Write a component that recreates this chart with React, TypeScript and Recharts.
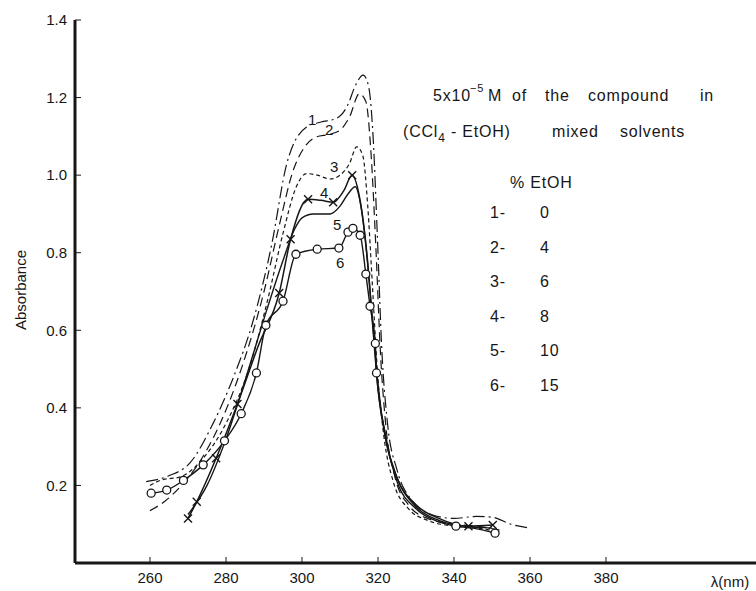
import { LineChart, Line, XAxis, YAxis } from 'recharts'

const xTicks = [260, 280, 300, 320, 340, 360, 380]
const yTicks = [0.2, 0.4, 0.6, 0.8, 1.0, 1.2, 1.4]

// 1 - 0 % EtOH (dash-dot)
const c1Nm = [259, 265, 270.5, 276.6, 282, 287, 292, 296, 301.2, 305, 309, 312, 314, 316.1, 317.5, 318.7, 319.8, 321, 322.5, 325, 329, 334, 340, 346, 350, 355, 360]
const c1Abs = [0.21, 0.225, 0.258, 0.36, 0.48, 0.62, 0.82, 1.03, 1.124, 1.137, 1.146, 1.18, 1.23, 1.258, 1.23, 1.1, 0.85, 0.55, 0.36, 0.24, 0.16, 0.125, 0.115, 0.12, 0.118, 0.1, 0.09]

// 2 - 4 % EtOH (dashed)
const c2Nm = [260, 264, 268, 273, 278, 284, 290, 294, 297.7, 300.5, 303.9, 307, 310, 312.5, 315.1, 316.8, 318.2, 319.5, 320.6, 322, 324.5, 328, 333, 340, 346, 352]
const c2Abs = [0.135, 0.16, 0.197, 0.26, 0.35, 0.5, 0.7, 0.87, 1.013, 1.07, 1.099, 1.105, 1.116, 1.15, 1.21, 1.19, 1.05, 0.8, 0.55, 0.36, 0.22, 0.15, 0.115, 0.1, 0.095, 0.085]

// 3 - 6 % EtOH (short dashes)
const c3Nm = [260, 263, 268, 274, 280, 286, 291, 295, 298.5, 301.2, 304, 307.4, 310, 312.5, 314.4, 316, 317.3, 318.5, 319.8, 321.5, 324, 328, 333, 340, 346, 352]
const c3Abs = [0.2, 0.214, 0.222, 0.27, 0.36, 0.5, 0.68, 0.85, 0.97, 1.004, 1.0, 0.99, 1.0, 1.03, 1.073, 1.05, 0.92, 0.72, 0.5, 0.33, 0.21, 0.14, 0.11, 0.095, 0.09, 0.08]

// 4 - 8 % EtOH (crosses)
const c4Nm = [270, 272.3, 277.4, 283, 288.5, 294, 297, 301.6, 305, 308.2, 311, 313.2, 315, 316.5, 317.6, 318.7, 320, 322, 325, 330, 336, 343.8, 350.2]
const c4Abs = [0.115, 0.158, 0.27, 0.41, 0.56, 0.696, 0.835, 0.938, 0.935, 0.93, 0.96, 1.0, 0.95, 0.85, 0.74, 0.6, 0.45, 0.32, 0.22, 0.15, 0.115, 0.095, 0.098]
const c4Marks = [0, 1, 2, 3, 5, 6, 7, 9, 11, 21, 22]

// 5 - 10 % EtOH (solid)
const c5Nm = [270, 275, 280, 285, 290, 295, 298, 300, 303, 307.4, 310, 312, 314, 315.5, 317, 318.5, 320, 322, 325, 330, 336, 343, 350]
const c5Abs = [0.125, 0.2, 0.32, 0.47, 0.63, 0.78, 0.86, 0.89, 0.9, 0.9, 0.92, 0.95, 0.97, 0.92, 0.8, 0.63, 0.46, 0.32, 0.22, 0.145, 0.11, 0.095, 0.09]

// 6 - 15 % EtOH (circles)
const c6Nm = [260.3, 264.4, 268.8, 274, 279.6, 284, 288, 290.5, 295, 298.4, 304, 309.7, 312.1, 313.4, 315.3, 316.8, 317.9, 319.3, 319.6, 322, 325, 330, 335, 340.5, 345, 350.8]
const c6Abs = [0.18, 0.188, 0.213, 0.253, 0.315, 0.385, 0.49, 0.613, 0.675, 0.796, 0.809, 0.812, 0.853, 0.863, 0.845, 0.745, 0.662, 0.566, 0.49, 0.33, 0.21, 0.14, 0.11, 0.095, 0.09, 0.077]
const c6Marks = [0, 1, 2, 3, 4, 5, 6, 7, 8, 9, 10, 11, 12, 13, 14, 15, 16, 17, 18, 23, 25]

const legendRows = [
  ['1-', '0'],
  ['2-', '4'],
  ['3-', '6'],
  ['4-', '8'],
  ['5-', '10'],
  ['6-', '15'],
]

const ink = '#161616'
const font = '"Liberation Sans", "DejaVu Sans", sans-serif'

const toPts = (nm: number[], abs: number[]) => nm.map((x, i) => ({ x, y: abs[i] }))

const CrossDot = (marks: number[]) => (p: any) => {
  const { cx, cy, index } = p
  if (!marks.includes(index)) return <g key={`n${index}`} />
  const s = 4
  return (
    <path
      key={`x${index}`}
      d={`M${cx - s},${cy - s}L${cx + s},${cy + s}M${cx - s},${cy + s}L${cx + s},${cy - s}`}
      stroke={ink}
      strokeWidth={1.4}
    />
  )
}

const CircleDot = (marks: number[]) => (p: any) => {
  const { cx, cy, index } = p
  if (!marks.includes(index)) return <g key={`n${index}`} />
  return <circle key={`o${index}`} cx={cx} cy={cy} r={4} fill="#fff" stroke={ink} strokeWidth={1.3} />
}

export default function App() {
  const line = { type: 'monotone' as const, dataKey: 'y', stroke: ink, isAnimationActive: false }
  return (
    <div style={{ position: 'relative', width: 756, height: 591, background: '#fff' }}>
      <style>{'body{margin:0;background:#fff}'}</style>
      <LineChart width={756} height={591} margin={{ top: 20, right: 0, bottom: 0, left: 0 }}>
        <XAxis
          dataKey="x"
          type="number"
          domain={[240.26, 419.47]}
          allowDataOverflow
          ticks={xTicks}
          height={28}
          tickSize={-6}
          tickMargin={15}
          axisLine={{ stroke: ink, strokeWidth: 3 }}
          tickLine={{ stroke: ink, strokeWidth: 1 }}
          tick={{ fill: ink, fontSize: 15, fontFamily: font }}
        />
        <YAxis
          type="number"
          domain={[0, 1.4]}
          allowDataOverflow
          ticks={yTicks}
          width={75}
          tickSize={-6}
          tickMargin={14}
          tickFormatter={(v: number) => v.toFixed(1)}
          axisLine={{ stroke: ink, strokeWidth: 3 }}
          tickLine={{ stroke: ink, strokeWidth: 1 }}
          tick={{ fill: ink, fontSize: 15, fontFamily: font }}
        />
        <Line {...line} data={toPts(c1Nm, c1Abs)} strokeWidth={1.2} strokeDasharray="12 4 2 4" dot={false} />
        <Line {...line} data={toPts(c2Nm, c2Abs)} strokeWidth={1.2} strokeDasharray="9 5" dot={false} />
        <Line {...line} data={toPts(c3Nm, c3Abs)} strokeWidth={1.2} strokeDasharray="4 3" dot={false} />
        <Line {...line} data={toPts(c4Nm, c4Abs)} strokeWidth={1.5} dot={CrossDot(c4Marks)} />
        <Line {...line} data={toPts(c5Nm, c5Abs)} strokeWidth={1.4} dot={false} />
        <Line {...line} data={toPts(c6Nm, c6Abs)} strokeWidth={1.4} dot={CircleDot(c6Marks)} />
      </LineChart>
      <svg width={756} height={591} style={{ position: 'absolute', left: 0, top: 0, pointerEvents: 'none' }}>
        <g fill={ink} fontFamily={font}>
          <text x={26} y={290} fontSize={15} textAnchor="middle" transform="rotate(-90 26 290)">Absorbance</text>
          <text x={730} y={587} fontSize={15} textAnchor="middle">λ(nm)</text>

          <g fontSize={15}>
            <text x={308} y={125}>1</text>
            <text x={325} y={135}>2</text>
            <text x={330} y={172}>3</text>
            <text x={320} y={198}>4</text>
            <text x={333} y={230}>5</text>
            <text x={336} y={268}>6</text>
          </g>

          <g fontSize={16} letterSpacing={0.8}>
            <text x={433} y={101}>
              5x10<tspan fontSize={11} dx={-1} dy={-9}>−5</tspan>
            </text>
            <text x={488} y={101}>M</text>
            <text x={512} y={101}>of</text>
            <text x={545} y={101}>the</text>
            <text x={588} y={101}>compound</text>
            <text x={700} y={101}>in</text>
            <text x={403} y={137}>
              (CCl<tspan fontSize={12} dy={5}>4</tspan>
              <tspan dy={-5}> - EtOH)</tspan>
            </text>
            <text x={552} y={137}>mixed</text>
            <text x={620} y={137}>solvents</text>
            <text x={510} y={188}>% EtOH</text>
            {legendRows.map(([k, v], i) => (
              <g key={k}>
                <text x={490} y={218 + i * 34.5}>{k}</text>
                <text x={540} y={218 + i * 34.5}>{v}</text>
              </g>
            ))}
          </g>
        </g>
      </svg>
    </div>
  )
}
